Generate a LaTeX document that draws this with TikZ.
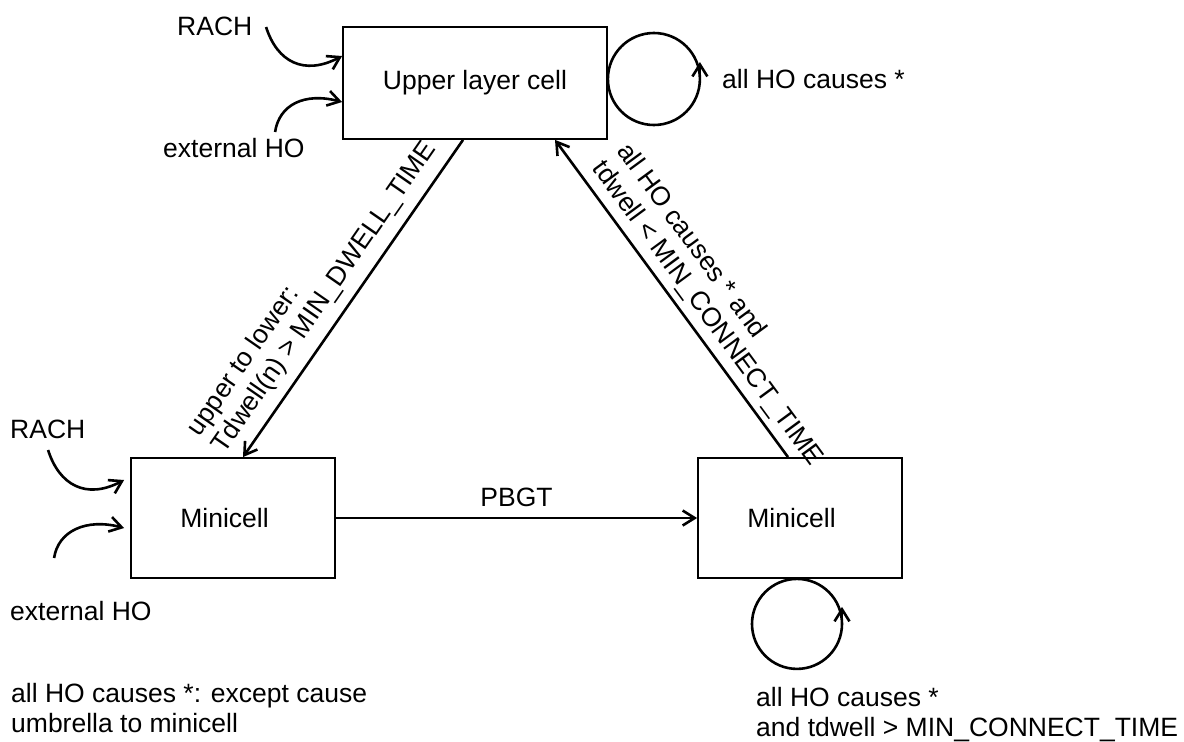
\documentclass[tikz,border=0pt]{standalone}
\usepackage{fontspec}
\setmainfont{Liberation Sans}
\usetikzlibrary{arrows.meta,calc}
\begin{document}
\begin{tikzpicture}[x=1pt,y=1pt,
  every node/.style={font=\fontsize{26.5}{30}\selectfont},
  box/.style={draw, line width=1.8pt, inner sep=0pt},
  ln/.style={line width=2.6pt},
  arr/.style={line width=2.6pt, -{Straight Barb[length=12pt,width=15pt]}},
  txt/.style={inner sep=0pt, anchor=base west, align=left},
  diag/.style={sloped, above, inner sep=5pt, align=left}]
\useasboundingbox (0,0) rectangle (1184,-742);
% boxes
\node[box, minimum width=264pt, minimum height=112pt] (up) at (475,-83) {Upper layer cell};
\node[box, minimum width=204pt, minimum height=120pt] (ml) at (233,-518) {Minicell\hspace*{17pt}};
\node[box, minimum width=204pt, minimum height=120pt] (mr) at (800,-518) {Minicell\hspace*{17pt}};
% connectors between boxes
\coordinate (a1) at ($(up.south)+(-12,0)$);
\coordinate (a2) at ($(ml.north)+(10,0)$);
\coordinate (b1) at ($(mr.north)+(-12,0)$);
\coordinate (b2) at ($(up.south)+(80,0)$);
\draw[arr] (a1) -- node[diag, pos=0.54, inner sep=10pt] (l1) {upper to lower:\\Tdwell(n) > MIN\_DWELL\_TIME} (a2);
\draw[arr] (b1) -- node[diag, pos=0.415, inner sep=6pt] (l2) {all HO causes * and\\tdwell < MIN\_CONNECT\_TIME} (b2);
\draw[arr] (ml.east) -- node[above=10pt, inner sep=0pt] (l3) {PBGT} (mr.west);
% self loops
\coordinate (c1) at ($(up.east)+(0,4)$);
\draw[ln] (c1) arc[start angle=180, end angle=-180, radius=46];
\coordinate (c1t) at ($(c1)+(92,-1)$);
\draw[arr] (c1t) -- ++(0,18);
\node[txt] (t1) at (722,-88) {all HO causes *};
\coordinate (c2) at ($(mr.south)+(-3,0)$);
\draw[ln] (c2) arc[start angle=90, end angle=-270, radius=45];
\coordinate (c2t) at ($(c2)+(45,-46)$);
\draw[arr] (c2t) -- ++(0,18);
\node[txt] (t2) at (756,-736) {all HO causes *\\and tdwell > MIN\_CONNECT\_TIME};
% incoming arrows, upper box
\coordinate (e1) at ($(up.west)+(0,27)$);
\coordinate (s1) at ($(e1)+(-76,29)$);
\draw[arr] (s1) .. controls +(11,-35) and +(-38,-20) .. (e1);
\node[txt] (r1) at (177,-35) {RACH};
\coordinate (e2) at ($(up.west)+(0,-19)$);
\coordinate (s2) at ($(e2)+(-67,-30)$);
\draw[arr] (s2) .. controls +(4,27) and +(-38,10) .. (e2);
\node[txt] (x1) at (163,-157) {external HO};
% incoming arrows, left minicell
\coordinate (e3) at ($(ml.west)+(-6,38)$);
\coordinate (s3) at ($(e3)+(-76,30)$);
\draw[arr] (s3) .. controls +(11,-35) and +(-38,-20) .. (e3);
\node[txt] (r2) at (10,-438) {RACH};
\coordinate (e4) at ($(ml.west)+(-6,-10)$);
\coordinate (s4) at ($(e4)+(-70,-30)$);
\draw[arr] (s4) .. controls +(4,27) and +(-38,10) .. (e4);
\node[txt] (x2) at (10,-620) {external HO};
% note
\node[txt] (n1) at (11,-732) {all HO causes *: except cause\\umbrella to minicell};
\end{tikzpicture}
\end{document}
